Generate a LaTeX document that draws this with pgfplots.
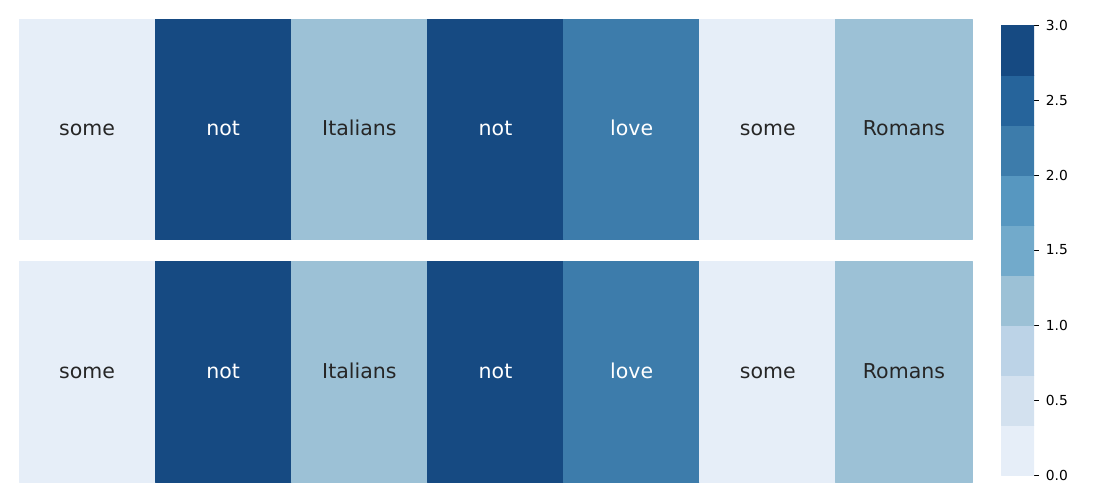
\documentclass[border=0pt]{standalone}
\usepackage{pgfplots}
\usepackage{pgfplotstable}
\pgfplotsset{compat=1.18}
\usepackage{fontspec}
\setmainfont{DejaVu Sans}
\definecolor{b0}{HTML}{E6EEF8}
\definecolor{b1}{HTML}{D3E1EF}
\definecolor{b2}{HTML}{BCD3E7}
\definecolor{b3}{HTML}{9CC1D6}
\definecolor{b4}{HTML}{72AACB}
\definecolor{b5}{HTML}{5797C0}
\definecolor{b6}{HTML}{3D7CAB}
\definecolor{b7}{HTML}{26649B}
\definecolor{b8}{HTML}{164A82}
\definecolor{dtxt}{HTML}{262626}
\pgfplotsset{colormap={sblues}{color=(b0) color=(b1) color=(b2) color=(b3) color=(b4) color=(b5) color=(b6) color=(b7) color=(b8) color=(b8)}}
\tikzset{lab/.style={font=\fontsize{10.25}{12}\selectfont, anchor=base, yshift=-3.25pt, inner sep=0pt}}
\pgfplotstableread{
x y c
0 0 0
1 0 0
1 1 0
0 1 0
1 0 3
2 0 3
2 1 3
1 1 3
2 0 1
3 0 1
3 1 1
2 1 1
3 0 3
4 0 3
4 1 3
3 1 3
4 0 2
5 0 2
5 1 2
4 1 2
5 0 0
6 0 0
6 1 0
5 1 0
6 0 1
7 0 1
7 1 1
6 1 1
}\cells
\pgfplotstableread{
x y c
0 0.0000 0.01
1 0.0000 0.01
1 0.3333 0.01
0 0.3333 0.01
0 0.3333 0.34
1 0.3333 0.34
1 0.6667 0.34
0 0.6667 0.34
0 0.6667 0.68
1 0.6667 0.68
1 1.0000 0.68
0 1.0000 0.68
0 1.0000 1.01
1 1.0000 1.01
1 1.3333 1.01
0 1.3333 1.01
0 1.3333 1.34
1 1.3333 1.34
1 1.6667 1.34
0 1.6667 1.34
0 1.6667 1.68
1 1.6667 1.68
1 2.0000 1.68
0 2.0000 1.68
0 2.0000 2.01
1 2.0000 2.01
1 2.3333 2.01
0 2.3333 2.01
0 2.3333 2.34
1 2.3333 2.34
1 2.6667 2.34
0 2.6667 2.34
0 2.6667 2.68
1 2.6667 2.68
1 3.0000 2.68
0 3.0000 2.68
}\cbar
\begin{document}
\begin{tikzpicture}
\path[use as bounding box] (0pt,0pt) rectangle (550pt,250pt);
\pgfplotsset{
  hm/.style={anchor=south west, scale only axis, width=476.5pt, height=110pt,
    xmin=0, xmax=7, ymin=0, ymax=1, hide axis, clip=false,
    colormap name=sblues, colormap access=piecewise constant,
    point meta min=0, point meta max=3},
  cellplot/.style={patch, patch type=rectangle, shader=flat, draw=none, point meta=explicit},
}
\newcommand{\words}{%
  \node[lab, text=dtxt] at (axis cs:0.5,0.5) {some};
  \node[lab, text=white] at (axis cs:1.5,0.5) {not};
  \node[lab, text=dtxt] at (axis cs:2.5,0.5) {Italians};
  \node[lab, text=white] at (axis cs:3.5,0.5) {not};
  \node[lab, text=white] at (axis cs:4.5,0.5) {love};
  \node[lab, text=dtxt] at (axis cs:5.5,0.5) {some};
  \node[lab, text=dtxt] at (axis cs:6.5,0.5) {Romans};
}
\begin{axis}[hm, at={(9.5pt,130.5pt)}]
\addplot[cellplot] table[x=x, y=y, meta=c] {\cells};
\words
\end{axis}
\begin{axis}[hm, at={(9.5pt,9pt)}, height=110.5pt]
\addplot[cellplot] table[x=x, y=y, meta=c] {\cells};
\words
\end{axis}
\begin{axis}[anchor=south west, at={(500.5pt,12.5pt)}, scale only axis,
  width=16.5pt, height=225pt, xmin=0, xmax=1, ymin=0, ymax=3,
  axis line style={draw=none}, xtick=\empty,
  ytick={0,0.5,1,1.5,2,2.5,3}, ytick pos=right, yticklabel pos=right,
  tick align=outside, major tick length=2.4pt,
  tick style={black, line width=0.4pt},
  yticklabel style={font=\fontsize{6.9}{8}\selectfont, /pgf/number format/.cd, fixed, fixed zerofill, precision=1, assume math mode=true},
  colormap name=sblues, colormap access=piecewise constant,
  point meta min=0, point meta max=3]
\addplot[cellplot] table[x=x, y=y, meta=c] {\cbar};
\end{axis}
\end{tikzpicture}
\end{document}
